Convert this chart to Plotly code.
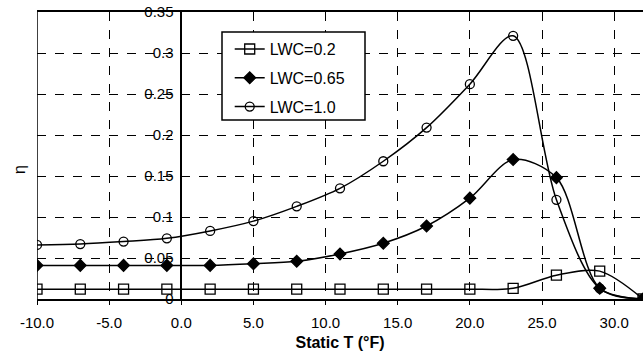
import plotly.graph_objects as go

x_vals = [-10, -7, -4, -1, 2, 5, 8, 11, 14, 17, 20, 23, 26, 29, 32]
lwc_02 = [0.012, 0.012, 0.012, 0.012, 0.012, 0.012, 0.012, 0.012, 0.012, 0.012, 0.012, 0.013, 0.029, 0.034, 0.0]
lwc_065 = [0.041, 0.041, 0.041, 0.041, 0.041, 0.043, 0.046, 0.055, 0.068, 0.089, 0.123, 0.170, 0.148, 0.013, 0.0]
lwc_10 = [0.066, 0.067, 0.070, 0.074, 0.083, 0.095, 0.113, 0.135, 0.168, 0.209, 0.262, 0.321, 0.121, 0.013, 0.0]
names = ["LWC=0.2", "LWC=0.65", "LWC=1.0"]
x_ticks = [-10, -5, 0, 5, 10, 15, 20, 25, 30]
x_ticktext = ["-10.0", "-5.0", "0.0", "5.0", "10.0", "15.0", "20.0", "25.0", "30.0"]
y_ticks = [0, 0.05, 0.1, 0.15, 0.2, 0.25, 0.3, 0.35]
y_ticktext = ["0", "0.05", "0.1", "0.15", "0.2", "0.25", "0.3", "0.35"]

fig = go.Figure()
styles = [
    dict(symbol="square-open", size=10, color="black"),
    dict(symbol="diamond", size=9, color="black"),
    dict(symbol="circle-open", size=9, color="black"),
]
for i, (nm, ys) in enumerate(zip(names, [lwc_02, lwc_065, lwc_10])):
    fig.add_trace(go.Scatter(
        x=x_vals, y=ys, name=nm, mode="lines+markers",
        line=dict(color="black", width=1.5, shape="spline", smoothing=0.9),
        marker=dict(**styles[i], line=dict(color="black", width=1.3)),
        legendgroup=nm,
    ))

fig.update_layout(
    width=643, height=358,
    margin=dict(l=37, r=0, t=12, b=59),
    paper_bgcolor="white", plot_bgcolor="white",
    font=dict(family="Liberation Sans, Arial, sans-serif", size=15, color="black"),
    showlegend=True,
    legend=dict(x=0.318, y=0.93, xanchor="left", yanchor="top",
                borderwidth=0, bgcolor="rgba(0,0,0,0)",
                font=dict(size=16), tracegroupgap=5, traceorder="grouped",
                itemwidth=30),
    xaxis=dict(range=[-10, 32], tickvals=x_ticks, ticktext=x_ticktext,
               showgrid=True, gridcolor="black", griddash="dash", gridwidth=1,
               showline=True, linecolor="black", linewidth=1.5, mirror=True,
               zeroline=False, ticks="outside", ticklen=4, tickcolor="black",
               ticklabelstandoff=5, tickfont=dict(size=15),
               title=dict(text="<b>Static T (°F)</b>", font=dict(size=16), standoff=7)),
    yaxis=dict(range=[0, 0.35], tickvals=y_ticks, ticktext=y_ticktext,
               anchor="free", position=10/42,
               showgrid=True, gridcolor="black", griddash="dash", gridwidth=1,
               showline=True, linecolor="black", linewidth=1.5,
               zeroline=False, ticks="inside", ticklen=4, tickcolor="black",
               ticklabelstandoff=4, tickfont=dict(size=15)),
)
fig.add_shape(type="line", xref="x", yref="y", x0=-10, x1=-10, y0=0, y1=0.35,
              line=dict(color="black", width=1.5))
# legend frame
fig.add_shape(type="rect", xref="paper", yref="paper",
              x0=(222 - 37) / 606, x1=(365 - 37) / 606,
              y0=(299 - 120) / 287, y1=(299 - 32) / 287,
              line=dict(color="black", width=1.5), fillcolor="white", layer="above")
fig.add_annotation(text="η", xref="paper", yref="paper", x=-0.045, y=0.45,
                   showarrow=False, textangle=-90, font=dict(size=16))
fig.write_html("out.html")
